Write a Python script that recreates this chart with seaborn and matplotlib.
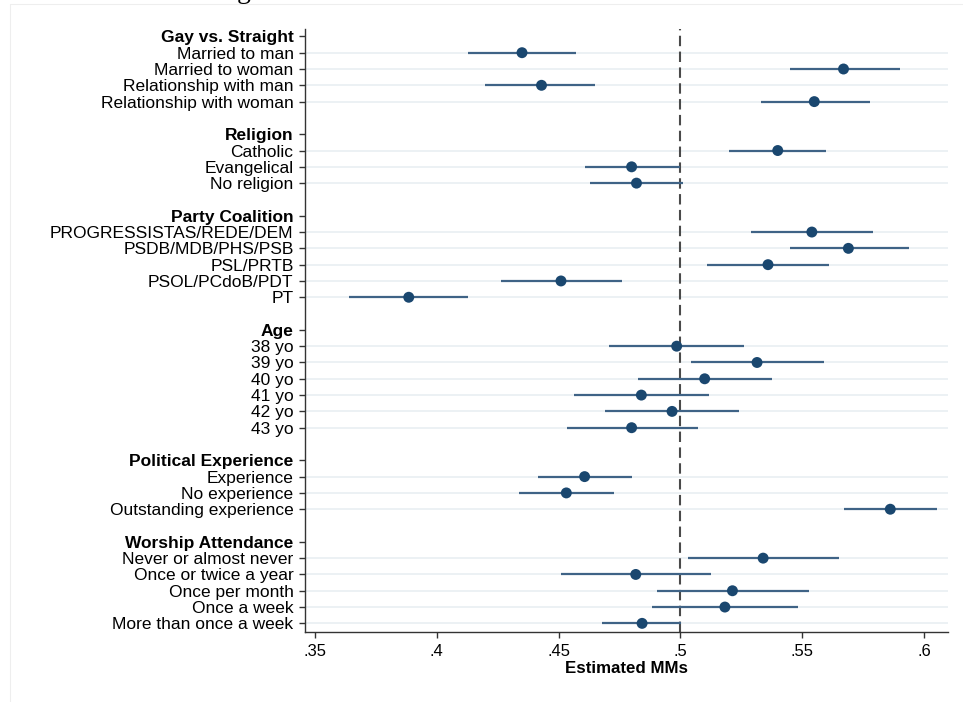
import matplotlib
matplotlib.use("Agg")
import matplotlib.pyplot as plt
from matplotlib.lines import Line2D
import seaborn as sns
import pandas as pd

# ---------------- data ----------------
group_titles = ["Gay vs. Straight", "Religion", "Party Coalition", "Age",
                "Political Experience", "Worship Attendance"]

gay_labels = ["Married to man", "Married to woman", "Relationship with man", "Relationship with woman"]
gay_est = [0.435, 0.567, 0.443, 0.555]
gay_lo = [0.413, 0.545, 0.420, 0.533]
gay_hi = [0.457, 0.590, 0.465, 0.578]

rel_labels = ["Catholic", "Evangelical", "No religion"]
rel_est = [0.540, 0.480, 0.482]
rel_lo = [0.520, 0.461, 0.463]
rel_hi = [0.560, 0.500, 0.501]

party_labels = ["PROGRESSISTAS/REDE/DEM", "PSDB/MDB/PHS/PSB", "PSL/PRTB", "PSOL/PCdoB/PDT", "PT"]
party_est = [0.554, 0.569, 0.536, 0.451, 0.3885]
party_lo = [0.529, 0.545, 0.511, 0.4265, 0.364]
party_hi = [0.579, 0.594, 0.561, 0.476, 0.413]

age_labels = ["38 yo", "39 yo", "40 yo", "41 yo", "42 yo", "43 yo"]
age_est = [0.4985, 0.5315, 0.510, 0.484, 0.4966, 0.480]
age_lo = [0.4707, 0.5044, 0.4826, 0.4564, 0.4691, 0.4536]
age_hi = [0.5263, 0.5589, 0.5375, 0.5118, 0.524, 0.5073]

exp_labels = ["Experience", "No experience", "Outstanding experience"]
exp_est = [0.4607, 0.4532, 0.5862]
exp_lo = [0.4415, 0.4339, 0.567]
exp_hi = [0.480, 0.4728, 0.6052]

wor_labels = ["Never or almost never", "Once or twice a year", "Once per month",
              "Once a week", "More than once a week"]
wor_est = [0.534, 0.4817, 0.5214, 0.5183, 0.4843]
wor_lo = [0.5033, 0.4512, 0.4904, 0.4885, 0.4678]
wor_hi = [0.565, 0.5126, 0.5527, 0.5482, 0.5002]

xticks = [0.35, 0.40, 0.45, 0.50, 0.55, 0.60]
xticklabels = [".35", ".4", ".45", ".5", ".55", ".6"]
ref_value = 0.5
xlabel = "Estimated MMs"

groups = [
    (gay_labels, gay_est, gay_lo, gay_hi),
    (rel_labels, rel_est, rel_lo, rel_hi),
    (party_labels, party_est, party_lo, party_hi),
    (age_labels, age_est, age_lo, age_hi),
    (exp_labels, exp_est, exp_lo, exp_hi),
    (wor_labels, wor_est, wor_lo, wor_hi),
]

# ---------------- layout of rows ----------------
rows = []          # (position, label, is_header)
items = []         # plotted items
pos = 0
for title, (labs, est, lo, hi) in zip(group_titles, groups):
    rows.append((pos, title, True))
    pos += 1
    for l, e, a, b in zip(labs, est, lo, hi):
        rows.append((pos, l, False))
        items.append(dict(pos=pos, label=l, est=e, lo=a, hi=b))
        pos += 1
    pos += 1  # blank row between groups
df = pd.DataFrame(items)

# ---------------- style ----------------
sns.set_theme(style="white")
plt.rcParams["font.family"] = ["Liberation Sans", "DejaVu Sans"]
plt.rcParams["text.color"] = "black"
plt.rcParams["axes.labelcolor"] = "black"
plt.rcParams["xtick.color"] = "black"
plt.rcParams["ytick.color"] = "black"

W, H = 963, 702
fig = plt.figure(figsize=(W / 100, H / 100), dpi=100)
fig.patch.set_facecolor("white")

left_px, right_px, top_px, bot_px = 304.5, 948, 29.3, 632
ax = fig.add_axes([left_px / W, (H - bot_px) / H,
                   (right_px - left_px) / W, (bot_px - top_px) / H])

# gridlines for item rows
for p in df["pos"]:
    ax.axhline(p, color="#eaf0f3", lw=1.3, zorder=0)

# reference line
ax.axvline(ref_value, color="#4a4a4a", lw=1.5, dashes=(5, 2.6), zorder=1.5)

# confidence intervals
ax.hlines(df["pos"], df["lo"], df["hi"], color="#3f6386", lw=1.6, zorder=2)

# point estimates
sns.scatterplot(data=df, x="est", y="pos", color="#1a476f", s=62,
                edgecolor="none", linewidth=0, ax=ax, zorder=3, legend=False)

ax.set_xlim(0.3457, 0.6099)
ax.set_ylim(36.53, -0.435)

ax.set_xticks(xticks)
ax.set_xticklabels(xticklabels, fontsize=12)
ax.set_yticks([r[0] for r in rows])
ax.set_yticklabels([r[1] for r in rows], fontsize=12.5)
for (p, lab, is_header), tl, tk in zip(rows, ax.get_yticklabels(), ax.yaxis.get_major_ticks()):
    if is_header:
        tl.set_fontweight("bold")
        tk.tick1line.set_visible(False)

ax.tick_params(axis="y", which="major", left=True, length=4.3, width=1.0,
               color="#333333", pad=3.6, labelcolor="black")
ax.tick_params(axis="x", which="major", bottom=True, length=4.0, width=1.0,
               color="#333333", pad=4.5, labelcolor="black")

ax.set_xlabel(xlabel, fontsize=12.2, fontweight="bold", labelpad=1.5, color="black")
ax.set_ylabel("")

for s in ["top", "right"]:
    ax.spines[s].set_visible(False)
for s in ["left", "bottom"]:
    ax.spines[s].set_color("#333333")
    ax.spines[s].set_linewidth(1.0)
ax.grid(False)

# faint outer frame of the graph region
fig.add_artist(Line2D([10 / W, 10 / W], [0, 1 - 4 / H], transform=fig.transFigure,
                      color="#eeeeee", lw=0.8))
fig.add_artist(Line2D([10 / W, 1], [1 - 4 / H, 1 - 4 / H], transform=fig.transFigure,
                      color="#eeeeee", lw=0.8))

# cropped fragment of a title above the figure (as in the reference)
fig.text(237 / W, 1 + 1.5 / H, "g", fontsize=20, family=["Liberation Serif", "DejaVu Serif"],
         va="baseline", ha="left", color="black")

fig.savefig("out.png", dpi=100, facecolor="white")
